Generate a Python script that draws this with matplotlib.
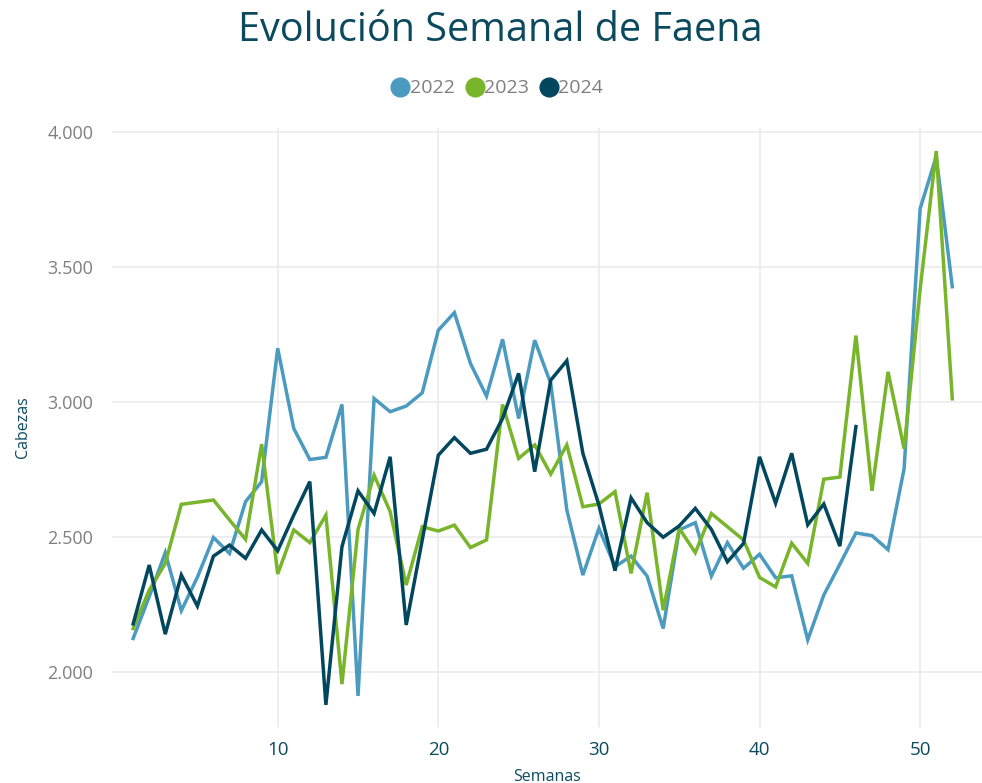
import matplotlib.pyplot as plt
from matplotlib.lines import Line2D
from matplotlib.ticker import FuncFormatter

#==============================================================================
# Data
#==============================================================================
weeks_22 = list(range(1, 53))
faena_22 = [2123, 2278, 2441, 2226, 2350, 2497, 2438, 2630, 2704, 3198,
            2901, 2786, 2794, 2990, 1910, 3012, 2963, 2984, 3033, 3265,
            3330, 3142, 3021, 3231, 2938, 3228, 3068, 2599, 2358, 2531,
            2389, 2428, 2354, 2160, 2525, 2552, 2354, 2478, 2383, 2435,
            2348, 2355, 2118, 2284, 2398, 2514, 2504, 2452, 2752, 3716,
            3908, 3426]

weeks_23 = list(range(1, 53))
faena_23 = [2160, 2302, 2401, 2620, 2628, 2636, 2562, 2490, 2843, 2362,
            2525, 2478, 2580, 1954, 2527, 2728, 2593, 2321, 2537, 2521,
            2543, 2460, 2488, 2990, 2790, 2840, 2732, 2840, 2611, 2621,
            2667, 2364, 2663, 2228, 2531, 2441, 2586, 2537, 2488, 2349,
            2314, 2476, 2401, 2713, 2721, 3245, 2670, 3111, 2826, 3418,
            3929, 3011]

weeks_24 = list(range(1, 47))
faena_24 = [2177, 2395, 2139, 2358, 2243, 2428, 2469, 2420, 2525, 2448,
            2580, 2704, 1877, 2463, 2670, 2586, 2796, 2173, 2488, 2802,
            2867, 2809, 2824, 2938, 3105, 2741, 3080, 3152, 2809, 2617,
            2374, 2644, 2552, 2498, 2540, 2605, 2527, 2407, 2475, 2796,
            2624, 2809, 2544, 2621, 2465, 2908]

years = ["2022", "2023", "2024"]
colors = ["#4B9ABF", "#78B52B", "#02475E"]

title_color = "#0B4A5E"
tick_gray = "#7F7F7F"
grid_color = "#EBEBEB"

plt.rcParams['font.family'] = ['Open Sans', 'DejaVu Sans']

fig = plt.figure(figsize=(9.82, 7.83), dpi=100)
ax = fig.add_axes([0.114, 0.0715, 0.886, 0.765])

series = [(weeks_22, faena_22), (weeks_23, faena_23), (weeks_24, faena_24)]
for (w, v), c, lab in zip(series, colors, years):
    ax.plot(w, v, color=c, linewidth=2.5, label=lab, solid_joinstyle='miter')

ax.set_xlim(-0.32, 53.85)
ax.set_ylim(1795, 4014)
ax.set_xticks([10, 20, 30, 40, 50])
ax.set_yticks([2000, 2500, 3000, 3500, 4000])
ax.yaxis.set_major_formatter(FuncFormatter(lambda v, p: "{:,.0f}".format(v).replace(",", ".")))
ax.grid(color=grid_color, linewidth=1.2)
ax.set_axisbelow(True)
for s in ax.spines.values():
    s.set_visible(False)
ax.tick_params(axis='both', length=0)
ax.tick_params(axis='y', labelsize=13, labelcolor=tick_gray, pad=13.5)
ax.tick_params(axis='x', labelsize=13.5, labelcolor=title_color, pad=10)

ax.set_xlabel("Semanas", fontsize=11.5, color=title_color, labelpad=7)
ax.set_ylabel("Cabezas", fontsize=11.5, color=title_color, labelpad=12)

fig.text(0.509, 0.961, "Evolución Semanal de Faena", ha='center', va='center',
         fontsize=28.5, color=title_color)

handles = [Line2D([], [], marker='o', linestyle='none', markersize=13.5,
                  color=c) for c in colors]
fig.legend(handles, years, loc='center', bbox_to_anchor=(0.505, 0.887), ncol=3,
           frameon=False, fontsize=14, labelcolor=tick_gray, handletextpad=-0.1,
           columnspacing=0.4, handlelength=1.2)

fig.savefig("out.png", dpi=100)
